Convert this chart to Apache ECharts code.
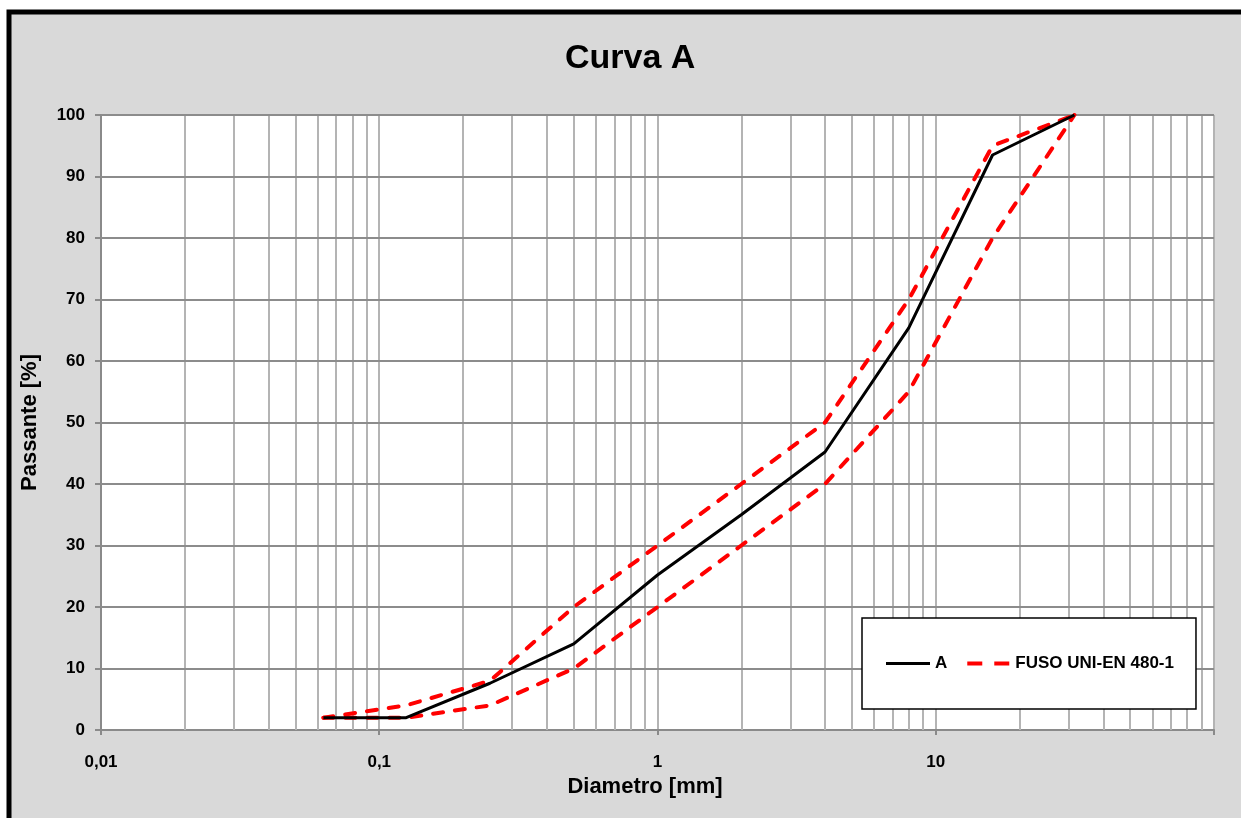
<!DOCTYPE html>
<html>
<head>
<meta charset="utf-8">
<script src="https://cdn.jsdelivr.net/npm/echarts@6/dist/echarts.min.js"></script>
<style>
html,body{margin:0;padding:0;background:#ffffff;}
#chart{width:1241px;height:818px;}
</style>
</head>
<body>
<div id="chart"></div>
<script>
// ---- data ----
var sieves = [0.063, 0.125, 0.25, 0.5, 1, 2, 4, 8, 16, 31.5];
var curvaA = [2, 2, 7.6, 14, 25.2, 35, 45.2, 65.4, 93.5, 100];
var fusoUpper = [2, 4, 8, 20, 30, 40, 50, 70, 95, 100];
var fusoLower = [2, 2, 4, 10, 20, 30, 40, 55, 80, 100];
var xMinorGrid = [0.02,0.03,0.04,0.05,0.06,0.07,0.08,0.09,
                  0.2,0.3,0.4,0.5,0.6,0.7,0.8,0.9,
                  2,3,4,5,6,7,8,9,
                  20,30,40,50,60,70,80,90];
var yTicks = [0,10,20,30,40,50,60,70,80,90,100];
var titleText = 'Curva A';
var xName = 'Diametro [mm]';
var yName = 'Passante [%]';
var nameA = 'A';
var nameFuso = 'FUSO UNI-EN 480-1';

function pairs(xs, ys){ return xs.map(function(x,i){ return [x, ys[i]]; }); }

var FONT = "'Liberation Sans', Arial, sans-serif";
var chart = echarts.init(document.getElementById('chart'), null, {renderer:'canvas'});
chart.setOption({
  backgroundColor: '#ffffff',
  animation: false,
  graphic: [{
    type: 'rect', z: -100, silent: true,
    shape: {x: 9, y: 12, width: 1300, height: 900},
    style: {fill: '#d9d9d9', stroke: '#000000', lineWidth: 5}
  }],
  title: {
    text: titleText, left: 565, top: 42, padding: 0,
    textStyle: {fontFamily: FONT, fontWeight: 'bold', fontSize: 34, color: '#000'}
  },
  legend: {
    data: [
      {name: nameA, icon: 'path://M0,0h44v3h-44z'},
      {name: nameFuso, icon: 'path://M0,0h15v4h-15z M27,0h15v4h-15z'}
    ],
    left: 862, top: 618,
    orient: 'horizontal',
    backgroundColor: '#ffffff', borderColor: '#000000', borderWidth: 1.5, borderRadius: 0,
    padding: [37, 22, 37, 24],
    itemWidth: 44, itemHeight: 4, itemGap: 20,
    textStyle: {fontFamily: FONT, fontWeight: 'bold', fontSize: 17, color: '#000'}
  },
  grid: {
    left: 101, right: 27, top: 115, bottom: 88,
    show: true, backgroundColor: '#ffffff', borderWidth: 0
  },
  xAxis: {
    type: 'log', logBase: 10, min: 0.01, max: 100,
    name: xName, nameLocation: 'middle', nameGap: 43,
    nameTextStyle: {fontFamily: FONT, fontWeight: 'bold', fontSize: 22, color: '#000', padding: [0, 25, 0, 0]},
    axisLine: {show: true, onZero: false, lineStyle: {color: '#8a8a8a', width: 2}},
    axisTick: {show: true, inside: false, length: 5, lineStyle: {color: '#8a8a8a', width: 2}},
    axisLabel: {
      margin: 24, fontFamily: FONT, fontWeight: 'bold', fontSize: 17, color: '#000',
      formatter: function(v){ if (v >= 100) return ''; return String(v).replace('.', ','); }
    },
    splitLine: {show: true, lineStyle: {color: '#b4b4b4', width: 2}}
  },
  yAxis: {
    type: 'value', min: 0, max: 100, interval: 10,
    name: yName, nameLocation: 'middle', nameGap: 60,
    nameTextStyle: {fontFamily: FONT, fontWeight: 'bold', fontSize: 22, color: '#000'},
    axisLine: {show: true, lineStyle: {color: '#8a8a8a', width: 2}},
    axisTick: {show: true, inside: false, length: 6, lineStyle: {color: '#8a8a8a', width: 2}},
    axisLabel: {margin: 16, fontFamily: FONT, fontWeight: 'bold', fontSize: 17, color: '#000'},
    splitLine: {show: false}
  },
  series: [
    {
      name: 'gridX', type: 'line', data: [], silent: true, z: 1,
      markLine: {
        silent: true, symbol: ['none','none'], z: 1, animation: false,
        label: {show: false},
        lineStyle: {color: '#b4b4b4', width: 2, type: 'solid'},
        data: xMinorGrid.map(function(v){ return {xAxis: v}; })
      }
    },
    {
      name: 'gridY', type: 'line', data: [], silent: true, z: 1,
      markLine: {
        silent: true, symbol: ['none','none'], z: 1.5, animation: false,
        label: {show: false},
        lineStyle: {color: '#8c8c8c', width: 2, type: 'solid'},
        data: yTicks.slice(1).map(function(v){ return {yAxis: v}; })
      }
    },
    {
      name: nameA, type: 'line', z: 4, symbol: 'none',
      data: pairs(sieves, curvaA),
      lineStyle: {color: '#000000', width: 3},
      itemStyle: {color: '#000000'}
    },
    {
      name: nameFuso, type: 'line', z: 3, symbol: 'none',
      data: pairs(sieves, fusoUpper),
      lineStyle: {color: '#ff0000', width: 4, type: [10, 12], cap: 'round'},
      itemStyle: {color: '#ff0000'}
    },
    {
      name: nameFuso, type: 'line', z: 3, symbol: 'none',
      data: pairs(sieves, fusoLower),
      lineStyle: {color: '#ff0000', width: 4, type: [10, 12], cap: 'round'},
      itemStyle: {color: '#ff0000'}
    }
  ]
});
</script>
</body>
</html>
